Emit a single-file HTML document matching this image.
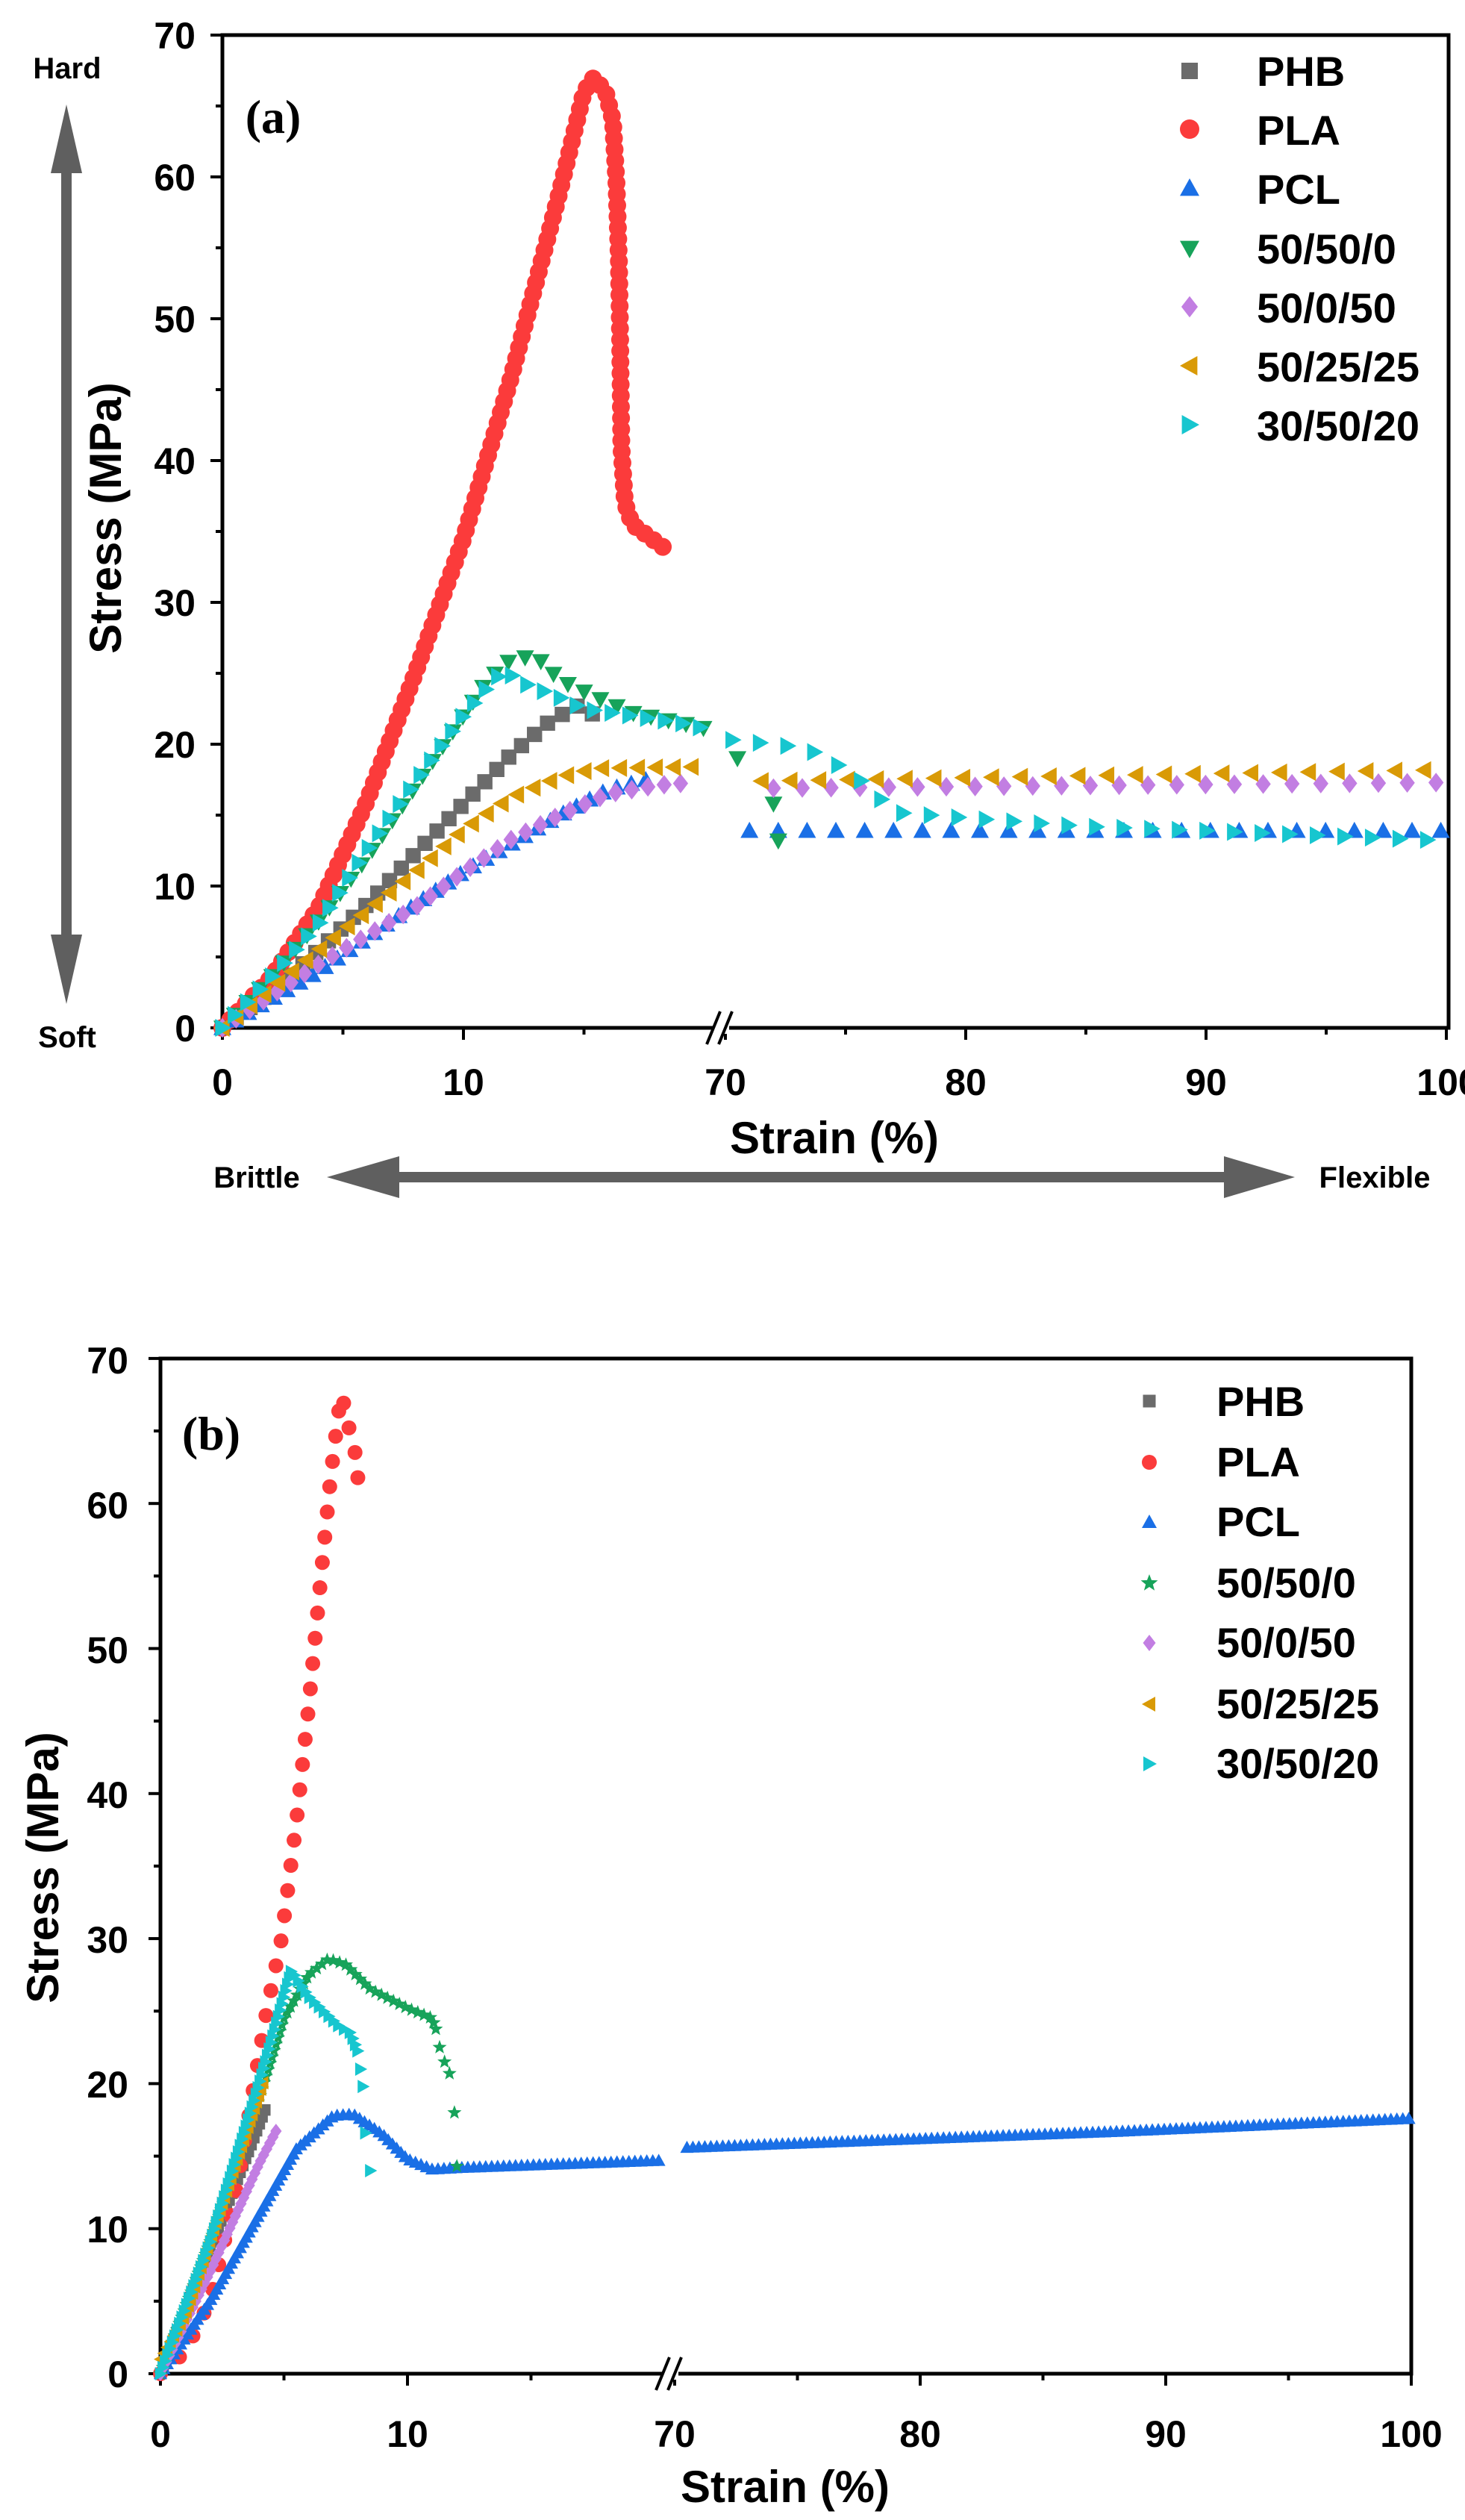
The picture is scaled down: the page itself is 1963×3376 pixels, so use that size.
<!DOCTYPE html>
<html><head><meta charset="utf-8"><style>
html,body{margin:0;padding:0;background:#fff;}
svg{display:block;}
text{font-family:"Liberation Sans",Arial,sans-serif;font-weight:bold;fill:#000;}
.tk{font-size:50px;}
.lg{font-size:56px;}
.ti{font-size:60px;}
.an{font-size:40px;}
.pl{font-family:"Liberation Serif",serif;font-size:64px;}
</style></head><body>
<svg id="s" width="1963" height="3376" viewBox="0 0 1963 3376" xmlns="http://www.w3.org/2000/svg">
<rect width="1963" height="3376" fill="#fff"/>
<g id="A"></g>
<g id="B"></g>
<g class="tk" text-anchor="end">
<text x="262" y="1395">0</text><text x="262" y="1205">10</text><text x="262" y="1015">20</text><text x="262" y="825">30</text><text x="262" y="635">40</text><text x="262" y="445">50</text><text x="262" y="255">60</text><text x="262" y="65">70</text>
</g>
<g class="tk" text-anchor="middle">
<text x="298" y="1467">0</text><text x="621" y="1467">10</text><text x="972" y="1467">70</text><text x="1294" y="1467">80</text><text x="1616" y="1467">90</text><text x="1940" y="1467">100</text>
</g>
<text class="ti" x="1118" y="1545" text-anchor="middle">Strain (%)</text>
<text class="ti" transform="translate(162,694) rotate(-90)" text-anchor="middle">Stress (MPa)</text>
<text class="pl" x="366" y="178" text-anchor="middle">(a)</text>
<text class="an" x="90" y="105" text-anchor="middle">Hard</text>
<text class="an" x="90" y="1403" text-anchor="middle">Soft</text>
<text class="an" x="344" y="1591" text-anchor="middle">Brittle</text>
<text class="an" x="1842" y="1591" text-anchor="middle">Flexible</text>
<g class="lg">
<text x="1684" y="115">PHB</text><text x="1684" y="194">PLA</text><text x="1684" y="273">PCL</text><text x="1684" y="353">50/50/0</text><text x="1684" y="432">50/0/50</text><text x="1684" y="511">50/25/25</text><text x="1684" y="590">30/50/20</text>
</g>
<g class="tk" text-anchor="end">
<text x="172" y="3198">0</text><text x="172" y="3004">10</text><text x="172" y="2810">20</text><text x="172" y="2616">30</text><text x="172" y="2422">40</text><text x="172" y="2228">50</text><text x="172" y="2034">60</text><text x="172" y="1840">70</text>
</g>
<g class="tk" text-anchor="middle">
<text x="215" y="3278">0</text><text x="546" y="3278">10</text><text x="904" y="3278">70</text><text x="1233" y="3278">80</text><text x="1562" y="3278">90</text><text x="1891" y="3278">100</text>
</g>
<text class="ti" x="1052" y="3352" text-anchor="middle">Strain (%)</text>
<text class="ti" transform="translate(78,2502) rotate(-90)" text-anchor="middle">Stress (MPa)</text>
<text class="pl" x="283" y="1942" text-anchor="middle">(b)</text>
<g class="lg">
<text x="1630" y="1897">PHB</text><text x="1630" y="1978">PLA</text><text x="1630" y="2058">PCL</text><text x="1630" y="2140">50/50/0</text><text x="1630" y="2220">50/0/50</text><text x="1630" y="2302">50/25/25</text><text x="1630" y="2382">30/50/20</text>
</g>
</svg>
<script>
var NS="http://www.w3.org/2000/svg";
function el(g,t,a){var e=document.createElementNS(NS,t);for(var k in a)e.setAttribute(k,a[k]);g.appendChild(e);return e;}
function mk(type,x,y,r){
 switch(type){
 case "sq":r*=0.85;return "M"+(x-r)+" "+(y-r)+"h"+2*r+"v"+2*r+"h"+(-2*r)+"z";
 case "ci":return "M"+(x-r)+" "+y+"a"+r+" "+r+" 0 1 0 "+2*r+" 0a"+r+" "+r+" 0 1 0 "+(-2*r)+" 0z";
 case "tu":return "M"+x+" "+(y-r)+"L"+(x+r)+" "+(y+r*0.8)+"L"+(x-r)+" "+(y+r*0.8)+"z";
 case "td":return "M"+x+" "+(y+r)+"L"+(x+r)+" "+(y-r*0.8)+"L"+(x-r)+" "+(y-r*0.8)+"z";
 case "tl":return "M"+(x-r)+" "+y+"L"+(x+r*0.8)+" "+(y-r)+"L"+(x+r*0.8)+" "+(y+r)+"z";
 case "tr":return "M"+(x+r)+" "+y+"L"+(x-r*0.8)+" "+(y-r)+"L"+(x-r*0.8)+" "+(y+r)+"z";
 case "di":return "M"+x+" "+(y-r*1.1)+"L"+(x+r*0.85)+" "+y+"L"+x+" "+(y+r*1.1)+"L"+(x-r*0.85)+" "+y+"z";
 case "st":var p="";for(var i=0;i<10;i++){var a=-Math.PI/2+i*Math.PI/5,rr=i%2?r*0.42:r;p+=(i?"L":"M")+(x+rr*Math.cos(a)).toFixed(1)+" "+(y+rr*Math.sin(a)).toFixed(1);}return p+"z";
 }
}
function place(pts,map,d){
 var px=pts.map(function(p){return map(p[0],p[1]);});var out=[px[0]];var acc=0;
 for(var i=1;i<px.length;i++){var a=px[i-1],b=px[i];var L=Math.hypot(b[0]-a[0],b[1]-a[1]);var t=0;
  while(acc+(L-t)>=d){var need=d-acc;t+=need;acc=0;var f=t/L;out.push([a[0]+(b[0]-a[0])*f,a[1]+(b[1]-a[1])*f]);}
  acc+=L-t;}
 return out;
}
function series(g,type,color,r,segs,map,d){
 var s="";segs.forEach(function(seg){
  var ps=seg.raw?seg.pts.map(function(p){return map(p[0],p[1]);}):place(seg.pts,map,seg.d||d);
  ps.forEach(function(p){s+=mk(type,p[0],p[1],r);});});
 el(g,"path",{d:s,fill:color});
}
function axes(g,o){
 el(g,"rect",{x:o.L,y:o.T,width:o.R-o.L,height:o.B-o.T,fill:"none",stroke:"#000","stroke-width":5});
 for(var v=0;v<=70;v+=5){var y=o.my(v);el(g,"line",{x1:o.L,x2:o.L-(v%10?9:16),y1:y,y2:y,stroke:"#000","stroke-width":4});}
 o.xt.forEach(function(t){var x=o.mx(t[0]);el(g,"line",{x1:x,x2:x,y1:o.B,y2:o.B+(t[1]?16:9),stroke:"#000","stroke-width":4});});
 el(g,"rect",{x:o.bx-10,y:o.B-6,width:22,height:14,fill:"#fff"});
 el(g,"line",{x1:o.bx-18,y1:o.B+22,x2:o.bx,y2:o.B-22,stroke:"#000","stroke-width":4});
 el(g,"line",{x1:o.bx-2,y1:o.B+22,x2:o.bx+16,y2:o.B-22,stroke:"#000","stroke-width":4});
}
var C={phb:"#6b6b6b",pla:"#fb3b3b",pcl:"#1a6fe6",g:"#17a35a",pu:"#c27ee2",or:"#d99a06",cy:"#17c6cf"};
var A=document.getElementById("A");
function mA(x,y){return [x<=21?298+x*32.3:972+(x-70)*32.2,1377-y*19.0];}
axes(A,{L:298,R:1941,T:47,B:1377,my:function(v){return 1377-v*19;},mx:function(x){return mA(x,0)[0];},bx:965,
 xt:[[0,1],[5,0],[10,1],[15,0],[70,1],[75,0],[80,1],[85,0],[90,1],[95,0],[100,1]]});
el(A,"rect",{x:82,y:215,width:14,height:1050,fill:"#5f5f5f"});
el(A,"path",{d:"M89 140L110 232L68 232z",fill:"#5f5f5f"});
el(A,"path",{d:"M89 1345L110 1252L68 1252z",fill:"#5f5f5f"});
el(A,"rect",{x:520,y:1570,width:1140,height:14,fill:"#5f5f5f"});
el(A,"path",{d:"M438 1577L535 1549L535 1605z",fill:"#5f5f5f"});
el(A,"path",{d:"M1735 1577L1640 1549L1640 1605z",fill:"#5f5f5f"});
var rA=12;
series(A,"sq",C.phb,rA,[{pts:[[0,0],[2,2.5],[4,5.5],[6,8.7],[8,12.3],[10,15.8],[12,19.3],[13.5,21.5],[14.7,22.7],[15.5,22]]}],mA,23);
series(A,"ci",C.pla,rA,[{pts:[[0,0],[2,3.5],[4,8.5],[6,16],[8,25],[10,34.5],[12,46],[14,59],[15,66],[15.4,67],[15.9,66],[16.2,64],[16.35,59.5],[16.45,54],[16.5,48.5],[16.55,41],[16.7,37],[17,35.5],[18.6,33.5]]}],mA,15);
series(A,"tu",C.pcl,rA,[{pts:[[0,0],[4,4],[8,8.7],[10,11],[12,13],[14,15],[16,16.8],[17.6,17.5]],d:20},{pts:[[71,13.9],[100,13.9]],d:38.6}],mA,20);
series(A,"td",C.g,rA,[{pts:[[0,0],[2,3.5],[4,7.5],[6,12],[8,17],[10,22],[11,24.5],[12,26],[13,26.2],[14,24.5],[15.5,23.3],[17,22.2],[19,21.5],[20.3,21]]},{raw:1,pts:[[70.5,19],[72,15.8],[72.2,13.2]]}],mA,24);
series(A,"di",C.pu,rA,[{pts:[[0,0],[4,4.5],[8,8.5],[10,11],[12,13.3],[14,15],[16,16.5],[18,17.1],[19.5,17.3]],d:22},{pts:[[72,16.9],[100,17.3]],d:38.6}],mA,22);
series(A,"tl",C.or,rA,[{pts:[[0,0],[4,5.5],[8,11],[10,14],[12,16.3],[14,17.7],[15.5,18.3],[19.5,18.4]],d:24},{pts:[[71.5,17.4],[100,18.2]],d:38.6}],mA,24);
series(A,"tr",C.cy,rA,[{pts:[[0,0],[2,3.5],[4,7.3],[6,12.5],[8,17.3],[10,22],[11,24],[11.7,25.2],[12.5,24.3],[14,23.3],[15,22.5],[17,22],[19,21.5],[20.3,21]],d:24},{pts:[[70.3,20.3],[72,20],[73,19.8],[74,19.3],[75,18.2],[76,17],[77,15.2],[80,14.8],[85,14.2],[90,13.9],[100,13.2]],d:37}],mA,24);
[["sq",C.phb,95],["ci",C.pla,173],["tu",C.pcl,252],["td",C.g,333],["di",C.pu,411],["tl",C.or,490],["tr",C.cy,569]].forEach(function(l){el(A,"path",{d:mk(l[0],1594,l[2],13),fill:l[1]});});
var B=document.getElementById("B");
function mB(x,y){return [x<=21?215+x*33.1:904+(x-70)*32.9,3180-y*19.43];}
axes(B,{L:215,R:1891,T:1820,B:3180,my:function(v){return 3180-v*19.43;},mx:function(x){return mB(x,0)[0];},bx:897,
 xt:[[0,1],[5,0],[10,1],[15,0],[70,1],[75,0],[80,1],[85,0],[90,1],[95,0],[100,1]]});
var rB=9;
series(B,"sq",C.phb,rB,[{pts:[[0,0],[4.3,18.5]]}],mB,10);
series(B,"ci",C.pla,10,[{pts:[[0,0],[1,1.5],[2,5],[3,12],[3.8,20],[4.3,25],[4.9,30],[5.5,38],[6,46],[6.5,55],[6.9,62],[7.3,67.5],[7.5,66.5],[7.6,65.4],[7.8,64.2],[7.9,63.3],[8.0,61.6]]}],mB,34);
series(B,"tu",C.pcl,rB,[{pts:[[0,0],[2,5],[4,11],[5.5,15.5],[7,17.8],[7.8,17.9],[9,16.5],[10,14.8],[11,14.1],[12,14.2],[20.2,14.7]]},{pts:[[70.5,15.6],[88,16.7],[100,17.6]]}],mB,8);
series(B,"st",C.g,10,[{pts:[[0,0],[2,9],[4,19],[5,24.5],[6,27.5],[6.8,28.6],[7.5,28.2],[8.5,26.5],[10,25.2],[11,24.5],[11.2,23.5]],d:9},{raw:1,pts:[[11.3,22.5],[11.5,21.5],[11.7,20.7],[11.9,18],[12,14.3]]}],mB,9);
series(B,"di",C.pu,9,[{pts:[[0,0],[2,7],[4,14.5],[4.7,16.8]]}],mB,9);
series(B,"tl",C.or,9,[{pts:[[0,1],[1,4],[4.2,20.3]]}],mB,9);
series(B,"tr",C.cy,rB,[{pts:[[0,0],[2,9],[4,20],[5.3,27.8],[6,26],[7.2,24],[7.7,23.5],[8,22.2]],d:9},{raw:1,pts:[[8.1,21],[8.2,19.8],[8.3,16.6],[8.5,14]]}],mB,9);
[["sq",C.phb,1877],["ci",C.pla,1959],["tu",C.pcl,2039],["st",C.g,2121],["di",C.pu,2201],["tl",C.or,2283],["tr",C.cy,2363]].forEach(function(l){el(B,"path",{d:mk(l[0],1540,l[2],l[0]=="st"?12:10),fill:l[1]});});
</script>
</body></html>
